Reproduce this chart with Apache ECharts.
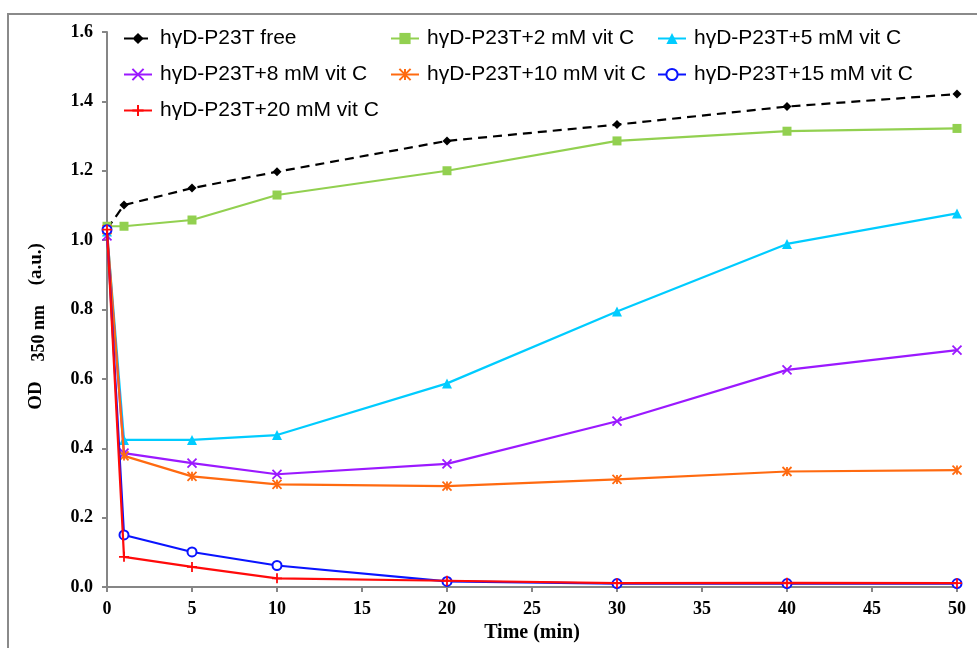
<!DOCTYPE html>
<html><head><meta charset="utf-8">
<script src="https://cdn.jsdelivr.net/npm/echarts@6/dist/echarts.min.js"></script>
<style>html,body{margin:0;padding:0;background:#fff}#c{width:977px;height:648px}</style>
</head><body><div id="c"></div>
<script>
const times = [0, 1, 5, 10, 20, 30, 40, 50];
const seriesNames = ['hγD-P23T free','hγD-P23T+2 mM vit C','hγD-P23T+5 mM vit C','hγD-P23T+8 mM vit C','hγD-P23T+10 mM vit C','hγD-P23T+15 mM vit C','hγD-P23T+20 mM vit C'];
const free   = [1.032, 1.101, 1.150, 1.197, 1.286, 1.333, 1.385, 1.421];
const vit2   = [1.040, 1.040, 1.058, 1.130, 1.200, 1.286, 1.314, 1.322];
const vit5   = [1.025, 0.424, 0.424, 0.438, 0.587, 0.794, 0.989, 1.077];
const vit8   = [1.012, 0.386, 0.357, 0.325, 0.355, 0.478, 0.626, 0.683];
const vit10  = [1.030, 0.378, 0.319, 0.296, 0.291, 0.310, 0.333, 0.337];
const vit15  = [1.030, 0.150, 0.101, 0.062, 0.016, 0.010, 0.010, 0.010];
const vit20  = [1.030, 0.087, 0.058, 0.025, 0.018, 0.011, 0.012, 0.011];
const yTicks = [0.0, 0.2, 0.4, 0.6, 0.8, 1.0, 1.2, 1.4, 1.6];
const xTicks = [0, 5, 10, 15, 20, 25, 30, 35, 40, 45, 50];

const colors = ['#000000', '#92D050', '#00CCFF', '#9B19FF', '#FF6A10', '#0A14FF', '#FF0A0A'];
const values = [free, vit2, vit5, vit8, vit10, vit15, vit20];
const X_PATH = 'path://M0,0L10,10M10,0L0,10';
const AST_PATH = 'path://M0,0L10,10M10,0L0,10M5,0L5,10';
const PLUS_PATH = 'path://M5,0L5,10M0,5L10,5';
const symbols = [
  {symbol:'diamond', size:9},
  {symbol:'rect', size:9},
  {symbol:'triangle', size:10},
  {symbol:X_PATH, size:9, stroke:true},
  {symbol:AST_PATH, size:9, stroke:true},
  {symbol:'emptyCircle', size:9},
  {symbol:PLUS_PATH, size:10, stroke:true}
];

const series = values.map((vals, i) => {
  const s = symbols[i];
  const item = s.stroke ? {color: colors[i], borderColor: colors[i], borderWidth: 1.8}
             : (s.symbol === 'emptyCircle' ? {color: colors[i], borderColor: colors[i], borderWidth: 2.4} : {color: colors[i]});
  return {
    name: seriesNames[i], type: 'line',
    data: times.map((t, k) => [t, vals[k]]),
    symbol: s.symbol, symbolSize: s.size, showSymbol: true,
    lineStyle: {color: colors[i], width: 2.2, type: i === 0 ? [9, 6] : 'solid'},
    itemStyle: item,
    emphasis: {disabled: true},
    animation: false, z: 2 + i
  };
});

const legendBase = {
  orient: 'vertical', itemWidth: 28, itemHeight: 14, itemGap: 15, padding: 0,
  textStyle: {fontFamily: 'Liberation Sans, Arial', fontSize: 21, lineHeight: 21, color: '#000', padding: [0,0,0,3]},
  selectedMode: false
};
const serif = 'Liberation Serif, Times New Roman';
const chart = echarts.init(document.getElementById('c'));
chart.setOption({
  backgroundColor: '#fff',
  graphic: [{type: 'rect', shape: {x: 8, y: 14, width: 1100, height: 800}, style: {fill: 'none', stroke: '#8a8a8a', lineWidth: 2}, z: -1}],
  legend: [
    Object.assign({}, legendBase, {left: 123, top: 28, data: [seriesNames[0], seriesNames[3], seriesNames[6]]}),
    Object.assign({}, legendBase, {left: 390, top: 28, data: [seriesNames[1], seriesNames[4]]}),
    Object.assign({}, legendBase, {left: 657, top: 28, data: [seriesNames[2], seriesNames[5]]})
  ],
  grid: {left: 107, right: 20, top: 32, bottom: 61, containLabel: false},
  xAxis: {
    type: 'value', min: 0, max: 50, interval: 5,
    name: 'Time (min)', nameLocation: 'middle', nameGap: 35,
    nameTextStyle: {fontFamily: serif, fontWeight: 'bold', fontSize: 20, color: '#000'},
    axisLine: {onZero: false, lineStyle: {color: '#868686', width: 2}},
    axisTick: {show: true, length: 5, lineStyle: {color: '#868686', width: 2}},
    axisLabel: {fontFamily: serif, fontWeight: 'bold', fontSize: 18, color: '#000', margin: 13,
      formatter: v => xTicks.includes(v) ? String(v) : ''},
    splitLine: {show: false}
  },
  yAxis: {
    type: 'value', min: 0, max: 1.6, interval: 0.2,
    name: '{m|OD}{sub|350 nm}{m|(a.u.)}', nameLocation: 'middle', nameGap: 59, nameRotate: 90,
    nameTextStyle: {fontFamily: serif, fontWeight: 'bold', fontSize: 19, color: '#000', padding: [0, 34, 0, 0],
      rich: {
        m: {fontFamily: serif, fontWeight: 'bold', fontSize: 19, color: '#000', lineHeight: 24},
        sub: {fontFamily: serif, fontWeight: 'bold', fontSize: 18, color: '#000', width: 96, align: 'center', padding: [7, 0, 0, 0], lineHeight: 24}
      }},
    axisLine: {show: true, lineStyle: {color: '#868686', width: 2}},
    axisTick: {show: true, length: 5, lineStyle: {color: '#868686', width: 2}},
    axisLabel: {fontFamily: serif, fontWeight: 'bold', fontSize: 18, color: '#000', margin: 14,
      formatter: v => { const t = yTicks.find(y => Math.abs(y - v) < 1e-6); return t === undefined ? '' : t.toFixed(1); }},
    splitLine: {show: false}
  },
  series: series
});
</script></body></html>
